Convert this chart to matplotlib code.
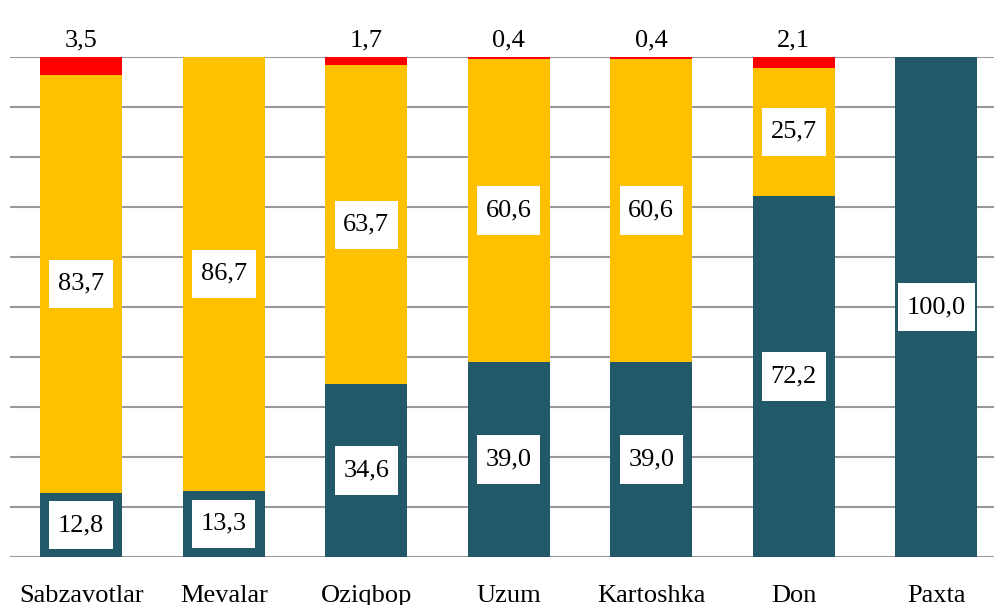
import matplotlib.pyplot as plt
import numpy as np
from matplotlib.path import Path

# ── Data ──────────────────────────────────────────────────────────────
categories = ["Sabzavotlar", "Mevalar", "Oziqbop", "Uzum", "Kartoshka", "Don", "Paxta"]
bottom_vals = [12.8, 13.3, 34.6, 39.0, 39.0, 72.2, 100.0]
middle_vals = [83.7, 86.7, 63.7, 60.6, 60.6, 25.7, 0.0]
top_vals = [3.5, 0.0, 1.7, 0.4, 0.4, 2.1, 0.0]

TEAL = "#215968"
YELLOW = "#FFC000"
RED = "#FF0000"

plt.rcParams["font.family"] = ["Liberation Serif", "DejaVu Serif"]


def fmt(v):
    return f"{v:.1f}".replace(".", ",")


def label_box(x0, y0, width, height, mutation_size):
    # wider vertical padding than horizontal, like the original labels
    px, py = 0.33 * mutation_size, 0.5 * mutation_size
    x1, y1 = x0 + width + px, y0 + height + py
    x0, y0 = x0 - px, y0 - py
    return Path([(x0, y0), (x1, y0), (x1, y1), (x0, y1), (x0, y0)], closed=True)


fig = plt.figure(figsize=(9.94, 6.05), dpi=100)
ax = fig.add_axes([10 / 994, 1 - 557 / 605, 997.5 / 994, 500 / 605])

x = np.arange(len(categories))
bottom = np.array(bottom_vals)
middle = np.array(middle_vals)
top = np.array(top_vals)
w = 0.575

ax.bar(x, bottom, w, color=TEAL, zorder=3)
ax.bar(x, middle, w, bottom=bottom, color=YELLOW, zorder=3)
ax.bar(x, top, w, bottom=bottom + middle, color=RED, zorder=3)

box = dict(boxstyle=label_box, facecolor="white", edgecolor="none")
fs = 19
for i in range(len(categories)):
    if bottom[i] > 0:
        ax.text(x[i], bottom[i] / 2, fmt(bottom[i]), ha="center", va="center",
                fontsize=fs, bbox=box, zorder=4)
    if middle[i] > 0:
        ax.text(x[i], bottom[i] + middle[i] / 2, fmt(middle[i]), ha="center",
                va="center", fontsize=fs, bbox=box, zorder=4)
    if top[i] > 0:
        ax.text(x[i], 103.4, fmt(top[i]), ha="center", va="center",
                fontsize=fs, zorder=4, clip_on=False)

ax.set_xlim(-0.5, len(categories) - 0.5)
ax.set_ylim(0, 100)
ax.set_yticks(np.arange(0, 101, 10))
ax.set_yticklabels([])
ax.tick_params(axis="y", length=0)
ax.tick_params(axis="x", length=0, pad=20, labelsize=fs)
ax.set_xticks(x)
ax.set_xticklabels(categories)
ax.grid(axis="y", color="#999999", linewidth=1.5, zorder=0)
for s in ax.spines.values():
    s.set_visible(False)

fig.savefig("out.png", dpi=100)
